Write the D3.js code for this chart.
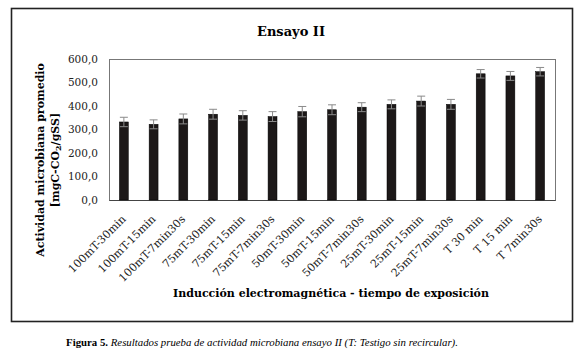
<!DOCTYPE html>
<html>
<head>
<meta charset="utf-8">
<script src="https://cdn.jsdelivr.net/npm/d3@7"></script>
<style>
  body { margin: 0; background: #fff; }
  svg { display: block; }
</style>
</head>
<body>
<svg id="chart" width="580" height="353"></svg>
<script>
// data
const categories = [
  "100mT-30min", "100mT-15min", "100mT-7min30s",
  "75mT-30min", "75mT-15min", "75mT-7min30s",
  "50mT-30min", "50mT-15min", "50mT-7min30s",
  "25mT-30min", "25mT-15min", "25mT-7min30s",
  "T 30 min", "T 15 min", "T 7min30s",
];
const values = [332, 322, 345, 365, 360, 355, 376, 384, 395, 407, 421, 407, 537, 528, 546];
const errors = [20, 19, 21, 21, 20, 21, 22, 21, 19, 19, 21, 21, 18, 19, 18];
const yTicks = [0, 100, 200, 300, 400, 500, 600];

const svg = d3.select("#chart");
const margin = { top: 59, left: 109, right: 25, bottom: 153 };
const width = 580 - margin.left - margin.right;
const height = 353 - margin.top - margin.bottom;
const serif = "'DejaVu Serif', serif";
const times = "'Liberation Serif', 'Times New Roman', Times, serif";

// outer frame
svg.append("rect")
  .attr("x", 11.5).attr("y", 8.5)
  .attr("width", 561).attr("height", 313)
  .attr("fill", "#fff")
  .attr("stroke", "#222")
  .attr("stroke-width", 1.6);

// title
svg.append("text")
  .attr("x", 291).attr("y", 36)
  .attr("text-anchor", "middle")
  .style("font-family", serif)
  .style("font-weight", "bold")
  .style("font-size", "13px")
  .text("Ensayo II");

const chart = svg.append("g")
  .attr("transform", `translate(${margin.left},${margin.top})`);

// scales
const xScale = d3.scaleBand()
  .domain(categories)
  .range([0, width])
  .paddingInner(0.7)
  .paddingOuter(0.35);
const yScale = d3.scaleLinear().domain([0, 600]).range([height, 0]);

// plot area border
chart.append("rect")
  .attr("x", 0.5).attr("y", 0.5)
  .attr("width", width).attr("height", height)
  .attr("fill", "none")
  .attr("stroke", "#777")
  .attr("stroke-width", 1);

// y axis
const yAxis = chart.append("g")
  .call(d3.axisLeft(yScale)
    .tickValues(yTicks)
    .tickSize(0)
    .tickPadding(11)
    .tickFormat((d) => d3.format(".1f")(d).replace(".", ",")));
yAxis.select(".domain").remove();
yAxis.selectAll("text")
  .style("font-family", serif)
  .style("font-size", "10.5px")
  .attr("fill", "#222");

// x axis line, labels drawn separately so they can be rotated
const xAxis = chart.append("g")
  .attr("transform", `translate(0,${height})`)
  .call(d3.axisBottom(xScale).tickSize(0).tickFormat(""));
xAxis.select(".domain").attr("stroke", "#444");

const cx = (d) => xScale(d) + xScale.bandwidth() / 2;

chart.append("g")
  .selectAll("text")
  .data(categories)
  .enter()
  .append("text")
  .attr("transform", (d) => `translate(${cx(d)},${height + 17}) rotate(-45)`)
  .attr("text-anchor", "end")
  .attr("dy", "0.35em")
  .style("font-family", serif)
  .style("font-size", "11px")
  .attr("fill", "#222")
  .text((d) => d);

// bars
chart.selectAll(".bar")
  .data(categories)
  .enter()
  .append("rect")
  .attr("class", "bar")
  .attr("x", (d) => xScale(d))
  .attr("y", (d, i) => yScale(values[i]))
  .attr("width", xScale.bandwidth())
  .attr("height", (d, i) => height - yScale(values[i]))
  .attr("fill", "#1c1818")
  .attr("stroke", "#000")
  .attr("stroke-width", 0.5);

// error bars
const errG = chart.selectAll(".err")
  .data(categories)
  .enter()
  .append("g")
  .attr("class", "err")
  .attr("stroke", "#8a8a8a")
  .attr("stroke-width", 1);
errG.append("line")
  .attr("x1", cx).attr("x2", cx)
  .attr("y1", (d, i) => yScale(values[i] + errors[i]))
  .attr("y2", (d, i) => yScale(values[i] - errors[i]));
errG.append("line")
  .attr("x1", (d) => cx(d) - 4).attr("x2", (d) => cx(d) + 4)
  .attr("y1", (d, i) => yScale(values[i] + errors[i]))
  .attr("y2", (d, i) => yScale(values[i] + errors[i]));
errG.append("line")
  .attr("x1", (d) => cx(d) - 4).attr("x2", (d) => cx(d) + 4)
  .attr("y1", (d, i) => yScale(values[i] - errors[i]))
  .attr("y2", (d, i) => yScale(values[i] - errors[i]));

// y axis title, two lines
const yTitle = svg.append("text")
  .attr("transform", "translate(44,160) rotate(-90)")
  .attr("text-anchor", "middle")
  .style("font-family", serif)
  .style("font-weight", "bold")
  .style("font-size", "11px");
yTitle.append("tspan").attr("x", 0).attr("y", 0)
  .text("Actividad microbiana promedio");
const line2 = yTitle.append("tspan").attr("x", 0).attr("y", 15);
line2.append("tspan").text("[mgC-CO");
line2.append("tspan").attr("dy", 2).style("font-size", "8px").text("2");
line2.append("tspan").attr("dy", -2).text("/gSS]");

// x axis title
svg.append("text")
  .attr("x", 331).attr("y", 297)
  .attr("text-anchor", "middle")
  .style("font-family", serif)
  .style("font-weight", "bold")
  .style("font-size", "11px")
  .text("Inducción electromagnética - tiempo de exposición");

// caption
const caption = svg.append("text")
  .attr("x", 262).attr("y", 346)
  .attr("text-anchor", "middle")
  .style("font-family", times)
  .style("font-size", "10.8px");
caption.append("tspan").style("font-weight", "bold").text("Figura 5. ");
caption.append("tspan").style("font-style", "italic")
  .text("Resultados prueba de actividad microbiana ensayo II (T: Testigo sin recircular).");
</script>
</body>
</html>
